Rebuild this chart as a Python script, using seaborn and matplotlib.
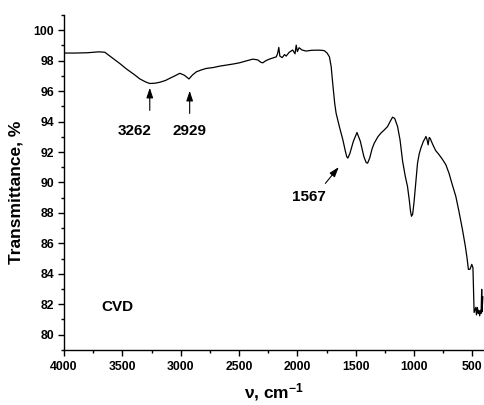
import matplotlib
matplotlib.use("Agg")
import matplotlib.pyplot as plt
import seaborn as sns
import pandas as pd
from matplotlib.ticker import MultipleLocator

# Wavenumber (cm^-1) and transmittance (%)
wavenumber = [4000, 3900, 3800, 3700, 3650, 3580, 3520, 3464, 3400, 3350, 3300, 3265,
              3220, 3179, 3130, 3094, 3050, 3008, 2970, 2945, 2929, 2900, 2865,
              2820, 2780, 2720, 2666, 2600, 2550, 2495, 2440, 2381, 2340, 2310,
              2296, 2270, 2240, 2210, 2181, 2170, 2159, 2150, 2130, 2110, 2096,
              2070, 2040, 2020, 2010, 2000, 1985, 1960, 1925, 1880, 1825, 1790,
              1768, 1745, 1725, 1710, 1697, 1680, 1668, 1640, 1610, 1590, 1577,
              1567, 1550, 1520, 1489, 1460, 1430, 1410, 1398, 1380, 1360, 1341,
              1310, 1284, 1255, 1227, 1205, 1184, 1165, 1141, 1120, 1098, 1075,
              1056, 1040, 1030, 1022, 1012, 1000, 985, 970, 955, 941, 920, 905,
              898, 888, 879, 870, 862, 840, 815, 785, 755, 727, 700, 670, 642,
              615, 585, 560, 545, 534, 520, 505, 495, 490, 485, 470, 465, 457,
              450, 445, 437, 430, 425, 420, 417, 414, 410]
transmittance = [98.50, 98.50, 98.52, 98.58, 98.55, 98.15, 97.80, 97.45, 97.10, 96.80, 96.60, 96.50,
                 96.52, 96.58, 96.70, 96.84, 97.00, 97.17, 97.05, 96.90, 96.80, 97.05, 97.27,
                 97.40, 97.49, 97.55, 97.64, 97.72, 97.78, 97.86, 97.98, 98.10, 98.05, 97.88,
                 97.86, 98.00, 98.10, 98.18, 98.25, 98.45, 98.87, 98.30, 98.20, 98.40, 98.30,
                 98.55, 98.70, 98.45, 99.02, 98.60, 98.85, 98.70, 98.63, 98.68, 98.69, 98.68,
                 98.65, 98.50, 98.25, 97.60, 96.51, 95.20, 94.55, 93.67, 92.80, 92.10, 91.70,
                 91.60, 91.90, 92.70, 93.28, 92.70, 91.70, 91.30, 91.27, 91.60, 92.20, 92.58,
                 93.00, 93.24, 93.45, 93.67, 94.00, 94.29, 94.20, 93.67, 92.80, 91.40, 90.40,
                 89.74, 88.80, 88.10, 87.78, 87.90, 88.70, 90.00, 91.27, 91.90, 92.26, 92.70, 92.90,
                 93.02, 92.80, 92.47, 92.95, 92.90, 92.50, 92.10, 91.82, 91.50, 91.16, 90.60, 89.80, 89.09,
                 88.10, 86.91, 85.80, 85.00, 84.29, 84.30, 84.62, 84.40, 83.00, 81.46, 81.80, 81.30, 81.79,
                 81.40, 81.60, 81.24, 81.60, 81.40, 82.98, 81.50, 81.90, 82.50]

tick_values = [80, 82, 84, 86, 88, 90, 92, 94, 96, 98, 100]
x_ticks = [4000, 3500, 3000, 2500, 2000, 1500, 1000, 500]

df = pd.DataFrame({"nu": wavenumber, "T": transmittance})

sns.set_style("ticks")
plt.rcParams["font.family"] = ["Liberation Sans", "DejaVu Sans"]
plt.rcParams["font.weight"] = "bold"
plt.rcParams["mathtext.fontset"] = "custom"
plt.rcParams["mathtext.rm"] = "Liberation Sans:bold"
plt.rcParams["mathtext.default"] = "rm"
plt.rcParams["text.color"] = "black"
plt.rcParams["axes.labelcolor"] = "black"
plt.rcParams["axes.edgecolor"] = "black"
plt.rcParams["xtick.color"] = "black"
plt.rcParams["ytick.color"] = "black"

fig = plt.figure(figsize=(4.85, 4.05), dpi=100)
ax = fig.add_axes([0.132, 0.136, 0.866, 0.827])

sns.lineplot(data=df, x="nu", y="T", sort=False, estimator=None, color="black",
             linewidth=0.9, ax=ax)

ax.set_xlim(4000, 400)
ax.set_ylim(79, 101)
ax.set_xticks(x_ticks)
ax.set_yticks(tick_values)
ax.xaxis.set_minor_locator(MultipleLocator(250))
ax.yaxis.set_minor_locator(MultipleLocator(1))
ax.tick_params(axis="both", which="major", direction="out", length=4, width=1,
               labelsize=8.8, colors="black")
ax.tick_params(axis="x", which="major", pad=4)
ax.tick_params(axis="y", which="major", pad=3)
ax.tick_params(axis="both", which="minor", direction="out", length=2.5, width=1,
               colors="black")
for lab in ax.get_xticklabels() + ax.get_yticklabels():
    lab.set_fontweight("bold")

for s in ["top", "right"]:
    ax.spines[s].set_visible(False)
for s in ["left", "bottom"]:
    ax.spines[s].set_linewidth(1.0)
    ax.spines[s].set_color("black")

ax.set_xlabel(r"ν, cm$^{-1}$", fontsize=12.5, fontweight="bold", labelpad=6)
ax.set_ylabel("Transmittance, %", fontsize=12.5, fontweight="bold", labelpad=5)
ax.yaxis.set_label_coords(-0.096, 0.47)

arrowprops = dict(arrowstyle="-|>,head_length=0.6,head_width=0.2", color="black", lw=0.8)
ax.annotate("", xy=(3265, 96.4), xytext=(3265, 94.55), arrowprops=arrowprops)
ax.annotate("", xy=(2923, 96.2), xytext=(2923, 94.35), arrowprops=arrowprops)
ax.annotate("", xy=(1630, 91.15), xytext=(1775, 89.8), arrowprops=arrowprops)

ax.text(3397, 93.35, "3262", ha="center", va="center", fontsize=11, fontweight="bold")
ax.text(2923, 93.35, "2929", ha="center", va="center", fontsize=11, fontweight="bold")
ax.text(1901, 89.05, "1567", ha="center", va="center", fontsize=11, fontweight="bold")
ax.text(3680, 81.85, "CVD", ha="left", va="center", fontsize=11, fontweight="bold")

fig.savefig("out.png", dpi=100)
